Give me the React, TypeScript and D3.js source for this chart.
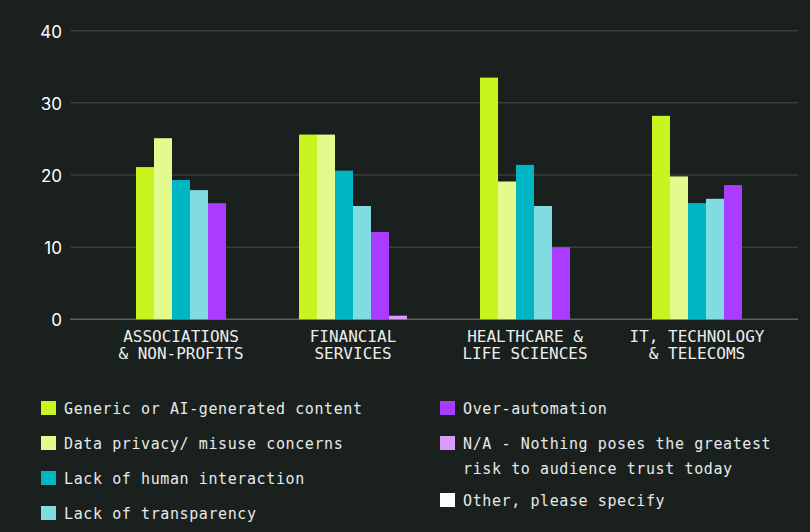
import React from "react";
import * as d3 from "d3";

const categories = [
  ["ASSOCIATIONS", "& NON-PROFITS"],
  ["FINANCIAL", "SERVICES"],
  ["HEALTHCARE &", "LIFE SCIENCES"],
  ["IT, TECHNOLOGY", "& TELECOMS"],
];

const seriesNames = [
  "Generic or AI-generated content",
  "Data privacy/ misuse concerns",
  "Lack of human interaction",
  "Lack of transparency",
  "Over-automation",
  "N/A - Nothing poses the greatest risk to audience trust today",
  "Other, please specify",
];

const seriesColors = ["#c8f520", "#e3fa8c", "#00b6c4", "#80dce1", "#a93cff", "#d79cf7", "#ffffff"];

// values per series, per category (null = no bar)
const genericAI = [21.1, 25.6, 33.5, 28.2];
const dataPrivacy = [25.1, 25.6, 19.1, 19.8];
const humanInteraction = [19.3, 20.6, 21.4, 16.1];
const transparency = [17.9, 15.7, 15.7, 16.7];
const overAutomation = [16.1, 12.1, 10.0, 18.6];
const nothing = [null, 0.5, null, null];
const other = [null, null, null, null];

const seriesValues = [genericAI, dataPrivacy, humanInteraction, transparency, overAutomation, nothing, other];

const yTicks = [0, 10, 20, 30, 40];

const legendLeft = [
  { i: 0, lines: ["Generic or AI-generated content"] },
  { i: 1, lines: ["Data privacy/ misuse concerns"] },
  { i: 2, lines: ["Lack of human interaction"] },
  { i: 3, lines: ["Lack of transparency"] },
];
const legendRight = [
  { i: 4, lines: ["Over-automation"] },
  { i: 5, lines: ["N/A - Nothing poses the greatest", "risk to audience trust today"] },
  { i: 6, lines: ["Other, please specify"] },
];

export default function App() {
  const W = 810;
  const H = 532;
  const y = d3.scaleLinear().domain([0, 40]).range([319.3, 30.7]);
  const x = d3.scalePoint<number>().domain(categories.map((_, i) => i)).range([181, 697]);
  const barW = 18;
  const mono = "'DejaVu Sans Mono', monospace";

  const bars: React.ReactNode[] = [];
  categories.forEach((_, ci) => {
    const present = seriesValues
      .map((vals, si) => ({ si, v: vals[ci] }))
      .filter((d) => d.v !== null && d.v !== undefined) as { si: number; v: number }[];
    const start = (x(ci) as number) - (present.length * barW) / 2;
    present.forEach((d, k) => {
      bars.push(
        <rect
          key={`b-${ci}-${d.si}`}
          x={start + k * barW}
          y={y(d.v)}
          width={barW}
          height={y(0) - y(d.v)}
          fill={seriesColors[d.si]}
        />
      );
    });
  });

  const legendRowsLeft = [414, 449, 484, 519];
  const legendRowsRight = [414, 449, 506];

  const renderLegend = (
    items: { i: number; lines: string[] }[],
    rows: number[],
    sx: number
  ) =>
    items.map((it, k) => (
      <g key={`lg-${it.i}`}>
        <rect x={sx} y={rows[k] - 13} width={15} height={14} fill={seriesColors[it.i]} />
        {it.lines.map((ln, li) => (
          <text
            key={li}
            x={sx + 23}
            y={rows[k] + li * 24.5}
            fill="#e6eae8"
            fontFamily={mono}
            fontSize={15}
            letterSpacing={0.6}
          >
            {ln}
          </text>
        ))}
      </g>
    ));

  return (
    <svg
      width={W}
      height={H}
      style={{ display: "block", position: "fixed", left: 0, top: 0, background: "#1a201e" }}
    >
      <rect width={W} height={H} fill="#1a201e" />
      {yTicks.map((t) => (
        <g key={`t-${t}`}>
          <line
            x1={t === 0 ? 70 : 71}
            x2={798}
            y1={y(t)}
            y2={y(t)}
            stroke={t === 0 ? "#5c615f" : "#383e3c"}
            strokeWidth={1.5}
          />
          <text
            x={62}
            y={y(t) + 7}
            textAnchor="end"
            fill="#ffffff"
            fontFamily="Inter, sans-serif"
            fontSize={17}
          >
            {t}
          </text>
        </g>
      ))}
      {bars}
      {categories.map((lines, ci) => (
        <text
          key={`c-${ci}`}
          x={x(ci) as number}
          textAnchor="middle"
          fill="#eceeed"
          fontFamily={mono}
          fontSize={16}
          fontWeight={500}
        >
          <tspan x={x(ci) as number} y={341.7}>
            {lines[0]}
          </tspan>
          <tspan x={x(ci) as number} y={359.3}>
            {lines[1]}
          </tspan>
        </text>
      ))}
      {renderLegend(legendLeft, legendRowsLeft, 41)}
      {renderLegend(legendRight, legendRowsRight, 440)}
    </svg>
  );
}
